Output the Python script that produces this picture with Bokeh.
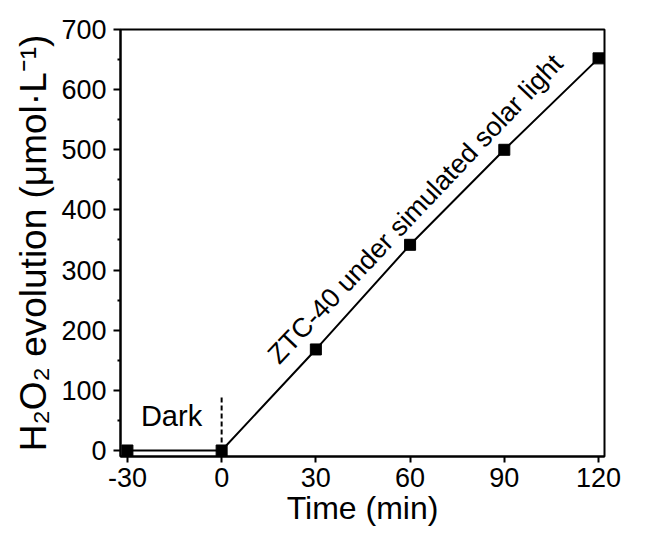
from bokeh.plotting import figure
from bokeh.models import Range1d, FixedTicker
from bokeh.core.properties import value
from bokeh.embed import file_html
from bokeh.resources import INLINE

# data
time_min = [-30, 0, 30, 60, 90, 120]
h2o2 = [0, 0, 168, 342, 500, 652]
x_ticks = [-30, 0, 30, 60, 90, 120]
x_tick_labels = ["-30", "0", "30", "60", "90", "120"]
y_ticks = [0, 100, 200, 300, 400, 500, 600, 700]
dark_label = "Dark"
curve_label = "ZTC-40 under simulated solar light"
x_title = "Time (min)"
y_title = "H\u2082O\u2082 evolution (\u03bcmol\u00b7L\u207b\u00b9)"

FONT = "Liberation Sans"

p = figure(width=647, height=533, output_backend="svg", toolbar_location=None,
           x_range=Range1d(-32.2, 121.9), y_range=Range1d(-10, 700),
           min_border_left=120, min_border_right=43, min_border_top=29,
           min_border_bottom=77)
p.grid.visible = False
p.outline_line_color = "black"
p.outline_line_width = 2
p.background_fill_color = "white"
p.border_fill_color = "white"

# axes
p.xaxis.ticker = FixedTicker(ticks=x_ticks)
p.xaxis.major_label_overrides = {t: s for t, s in zip(x_ticks, x_tick_labels)}
p.yaxis.ticker = FixedTicker(ticks=y_ticks, minor_ticks=[v + 50 for v in y_ticks[:-1]])
for ax in (p.xaxis, p.yaxis):
    ax.axis_line_width = 2
    ax.major_tick_line_width = 2
    ax.minor_tick_line_width = 2
    ax.major_tick_in = 0
    ax.minor_tick_in = 0
    ax.major_label_text_font = FONT
    ax.major_label_text_font_size = "27px"
    ax.major_label_text_color = "black"
    ax.axis_label_text_font = FONT
    ax.axis_label_text_font_style = "normal"
    ax.axis_label_text_color = "black"
p.xaxis.major_tick_out = 6
p.xaxis.minor_tick_out = 0
p.xaxis.major_label_standoff = 5
p.xaxis.axis_label = x_title
p.xaxis.axis_label_text_font_size = "32px"
p.xaxis.axis_label_standoff = 0
p.yaxis.major_tick_out = 7
p.yaxis.minor_tick_out = 3
p.yaxis.major_label_standoff = 7
p.yaxis.axis_label = y_title
p.yaxis.axis_label_text_font_size = "37px"
p.yaxis.axis_label_standoff = 4

# dashed separator at t=0
p.segment(x0=[0], y0=[0], x1=[0], y1=[88], line_color="black",
          line_width=2, line_dash="5 3")

# data line and markers
p.line(time_min, h2o2, line_color="black", line_width=2)
p.scatter(time_min, h2o2, marker="square", size=11, fill_color="black",
          line_color="black")

# annotations
p.text(x=[-25.7], y=[58], text=[dark_label], text_font=value(FONT),
       text_font_size="29px", text_color="black", text_baseline="alphabetic")
p.text(x=[16.3], y=[152], text=[curve_label], text_font=value(FONT),
       text_font_size="27px", text_color="black", text_baseline="alphabetic",
       angle=46.5, angle_units="deg")

open("out.html", "w").write(file_html(p, INLINE))
